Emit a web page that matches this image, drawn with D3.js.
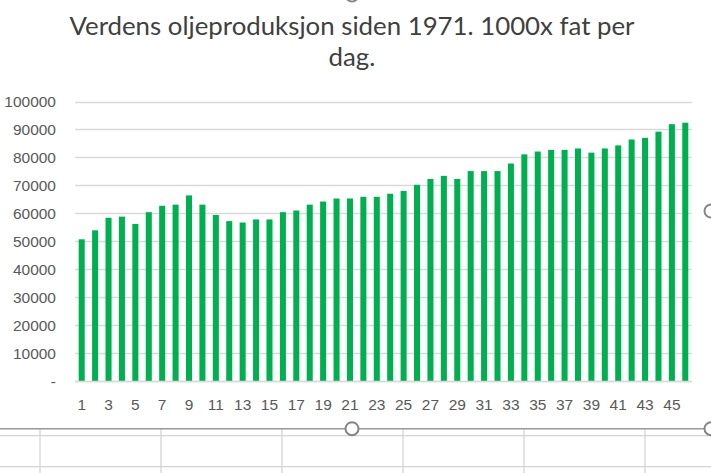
<!DOCTYPE html>
<html>
<head>
<meta charset="utf-8">
<script src="https://cdn.jsdelivr.net/npm/d3@7"></script>
<style>
html,body{margin:0;padding:0;background:#fff;}
svg{display:block;}
</style>
</head>
<body>
<svg id="chart" width="711" height="473"></svg>
<script>
const titleLines = ["Verdens oljeproduksjon siden 1971. 1000x fat per", "dag."];
const categories = d3.range(1, 47);
const values = [50700, 53900, 58400, 58800, 56200, 60400, 62700, 63100, 66400, 63100,
  59400, 57200, 56700, 57800, 57800, 60400, 61000, 63100, 64200, 65300,
  65300, 65900, 65900, 67000, 68000, 70200, 72300, 73400, 72300, 75100,
  75100, 75100, 77800, 81100, 82100, 82700, 82700, 83200, 81700, 83200,
  84300, 86400, 87000, 89200, 91900, 92400];
const yTicks = [0, 10000, 20000, 30000, 40000, 50000, 60000, 70000, 80000, 90000, 100000];
const xTickLabels = categories.filter(d => d % 2 === 1);

const svg = d3.select("#chart");

// spreadsheet background beneath chart
const sheet = svg.append("g");
[435.7, 466.7].forEach(yy => sheet.append("line").attr("x1",0).attr("x2",711).attr("y1",yy).attr("y2",yy)
  .attr("stroke","#D4D4D4").attr("stroke-width",1.3));
[40, 161, 282, 403, 524, 645].forEach(xx => sheet.append("line").attr("x1",xx).attr("x2",xx).attr("y1",429).attr("y2",473)
  .attr("stroke","#D4D4D4").attr("stroke-width",1.3));
sheet.append("line").attr("x1",0).attr("x2",711).attr("y1",428.7).attr("y2",428.7)
  .attr("stroke","#9A9A9A").attr("stroke-width",1.6);

const x = d3.scaleBand().domain(categories).range([75, 692]).paddingInner(0.55).paddingOuter(0.275);
const y = d3.scaleLinear().domain([0, 100000]).range([381, 101.5]);

// gridlines
svg.append("g").selectAll("line").data(yTicks).join("line")
  .attr("x1", 75).attr("x2", 692)
  .attr("y1", d => Math.round(y(d)) + 0.5).attr("y2", d => Math.round(y(d)) + 0.5)
  .attr("stroke", "#D9D9D9").attr("stroke-width", 1.3);

// y axis
const yAxis = d3.axisLeft(y).tickValues(yTicks).tickSize(0).tickPadding(0)
  .tickFormat(d => d === 0 ? "-" : String(d));
const ya = svg.append("g").attr("transform", "translate(56,0)").call(yAxis);
ya.select(".domain").remove();
ya.selectAll("text").attr("font-family", "Liberation Sans, Arial, sans-serif")
  .attr("font-size", 15.5).attr("fill", "#595959").attr("dy", "0.35em");

// bars
svg.append("g").selectAll("rect").data(values).join("rect")
  .attr("x", (d, i) => x(categories[i]))
  .attr("width", x.bandwidth())
  .attr("y", d => y(d))
  .attr("height", d => y(0) - y(d))
  .attr("fill", "#00B050");

// x axis
const xAxis = d3.axisBottom(x).tickValues(xTickLabels).tickSize(0).tickPadding(0);
const xa = svg.append("g").attr("transform", "translate(0,381)").call(xAxis);
xa.select(".domain").attr("stroke", "#D9D9D9").attr("stroke-width", 1.3).attr("d", "M75,0.5H692");
xa.selectAll("text").attr("font-family", "Liberation Sans, Arial, sans-serif")
  .attr("font-size", 15.5).attr("fill", "#595959").attr("y", 28.5).attr("dy", null);

// title (narrowed to mimic Calibri proportions)
const title = svg.append("g");
let ratio = 1;
titleLines.forEach((t, i) => {
  const tx = title.append("text").attr("x", 352).attr("y", 35 + i * 31)
    .attr("text-anchor", "middle").attr("font-family", "Lato, Carlito, Calibri, sans-serif")
    .attr("font-size", 25.5).attr("fill", "#404040").text(t);
  const natural = tx.node().getComputedTextLength();
  if (i === 0) ratio = 565 / natural;
  tx.attr("textLength", natural * ratio).attr("lengthAdjust", "spacingAndGlyphs");
});

// selection handles
[[352, -5], [352, 428.7], [711, 428.7], [711, 211]].forEach(([cx, cy]) => {
  svg.append("circle").attr("cx", cx).attr("cy", cy).attr("r", 6.5)
    .attr("fill", "#fff").attr("stroke", "#858585").attr("stroke-width", 2);
});
</script>
</body>
</html>
